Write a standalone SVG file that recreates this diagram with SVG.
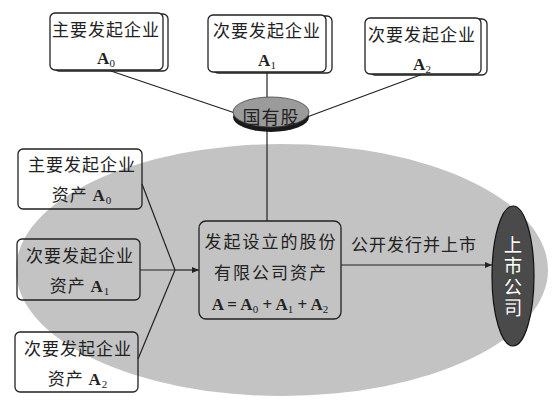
<svg xmlns="http://www.w3.org/2000/svg" width="553" height="409" viewBox="0 0 553 409">
<defs>
<style>
.cn{font-family:"Noto Sans CJK SC","Noto Sans",sans-serif;font-size:17px;fill:#222;text-anchor:middle;letter-spacing:1px}
.ar{font-family:"Liberation Serif",serif;font-size:17px;font-weight:bold;fill:#222;text-anchor:middle}
.box{fill:none;stroke:#222;stroke-width:1.3}
.boxw{fill:#fff;stroke:#222;stroke-width:1.3}
.ln{stroke:#222;stroke-width:1.2;fill:none}
.sub{font-size:11px;font-weight:normal}
</style>
<marker id="arr" markerWidth="8" markerHeight="8" refX="7" refY="4" orient="auto" markerUnits="userSpaceOnUse">
<path d="M0,1 L7,4 L0,7 Z" fill="#222"/>
</marker>
</defs>
<rect width="553" height="409" fill="#fff"/>
<ellipse id="bg" cx="282" cy="270" rx="266" ry="126" fill="#c3c3c3"/>

<g id="connectors">
<line class="ln" x1="108" y1="70" x2="235" y2="113"/>
<line class="ln" x1="267" y1="72" x2="267" y2="99"/>
<line class="ln" x1="423" y1="74" x2="307" y2="117"/>
<line class="ln" x1="267" y1="128" x2="267" y2="221"/>
<line class="ln" x1="142" y1="184" x2="175" y2="270"/>
<line class="ln" x1="140" y1="270" x2="175" y2="270"/>
<line class="ln" x1="138" y1="359" x2="175" y2="270"/>
<line class="ln" x1="175" y1="270" x2="199" y2="270" marker-end="url(#arr)"/>
<line class="ln" x1="341" y1="265" x2="492" y2="265" marker-end="url(#arr)"/>
<text class="cn" x="414" y="251">公开发行并上市</text>
</g>

<g id="top-a0">
<rect class="boxw" x="54" y="14" width="114" height="57" rx="5"/>
<rect class="boxw" x="50" y="13" width="113" height="57" rx="5"/>
<text class="cn" x="106" y="36">主要发起企业</text>
<text class="ar" x="106" y="64">A<tspan class="sub" dy="3">0</tspan></text>
</g>

<g id="top-a1">
<rect class="boxw" x="213" y="16" width="119" height="57" rx="5"/>
<rect class="boxw" x="208" y="15" width="118" height="57" rx="5"/>
<text class="cn" x="267" y="37">次要发起企业</text>
<text class="ar" x="267" y="66">A<tspan class="sub" dy="3">1</tspan></text>
</g>

<g id="top-a2">
<rect class="boxw" x="370" y="19" width="117" height="56" rx="5"/>
<rect class="boxw" x="365" y="18" width="116" height="56" rx="5"/>
<text class="cn" x="422" y="41">次要发起企业</text>
<text class="ar" x="422" y="70">A<tspan class="sub" dy="3">2</tspan></text>
</g>

<g id="state-shares">
<ellipse cx="271" cy="117" rx="38" ry="15" fill="#1a1a1a"/>
<ellipse cx="271" cy="112" rx="38" ry="15" fill="#9b9b9b" stroke="#444" stroke-width="0.8"/>
<text class="cn" x="271" y="124" style="font-size:18px">国有股</text>
</g>

<g id="asset-a0">
<rect class="box" x="18" y="149" width="124" height="60" rx="5"/>
<text class="cn" x="82" y="171">主要发起企业</text>
<text class="cn" x="82" y="201">资产 <tspan class="ar" style="text-anchor:start">A<tspan class="sub" dy="3">0</tspan></tspan></text>
</g>

<g id="asset-a1">
<rect class="box" x="17" y="239" width="123" height="61" rx="5"/>
<text class="cn" x="80" y="262">次要发起企业</text>
<text class="cn" x="80" y="292">资产 <tspan class="ar" style="text-anchor:start">A<tspan class="sub" dy="3">1</tspan></tspan></text>
</g>

<g id="asset-a2">
<rect class="box" x="15" y="332" width="123" height="60" rx="5"/>
<text class="cn" x="78" y="355">次要发起企业</text>
<text class="cn" x="78" y="385">资产 <tspan class="ar" style="text-anchor:start">A<tspan class="sub" dy="3">2</tspan></tspan></text>
</g>

<g id="company-assets">
<rect class="box" x="199" y="221" width="142" height="98" rx="7"/>
<text class="cn" x="271" y="248" style="letter-spacing:2px">发起设立的股份</text>
<text class="cn" x="271" y="279" style="letter-spacing:2px">有限公司资产</text>
<text class="ar" x="270" y="310">A = A<tspan class="sub" dy="3">0</tspan><tspan dy="-3"> + A</tspan><tspan class="sub" dy="3">1</tspan><tspan dy="-3"> + A</tspan><tspan class="sub" dy="3">2</tspan></text>
</g>

<g id="listed-company">
<ellipse cx="513" cy="276" rx="21" ry="70" fill="#4a4a4a" stroke="#111" stroke-width="1.2"/>
<text x="513" y="277" writing-mode="tb" style="font-family:'Noto Sans CJK SC',sans-serif;font-size:19px;font-weight:bold;fill:#fff;stroke:#222;stroke-width:0.6;text-anchor:middle;letter-spacing:2px">上市公司</text>
</g>
</svg>
